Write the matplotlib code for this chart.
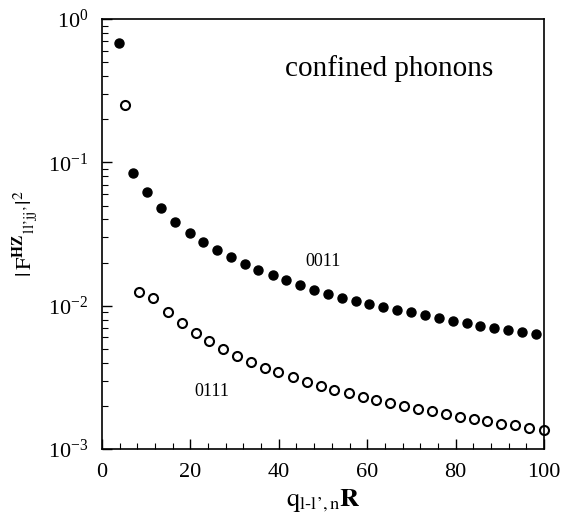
#!/usr/bin/env python3
"""Form factor |F^HZ|^2 vs q R for confined phonons"""
import matplotlib
matplotlib.use('Agg')
import matplotlib.pyplot as plt
from matplotlib.ticker import MultipleLocator, LogLocator, NullFormatter

plt.rcParams['font.family'] = 'Liberation Serif'
plt.rcParams['mathtext.fontset'] = 'stix'

# 0011 (filled circles)
x_0011 = [3.9, 7.1, 10.2, 13.3, 16.6, 19.8, 22.9, 26.0, 29.1, 32.3, 35.4, 38.6,
          41.6, 44.8, 48.0, 51.1, 54.3, 57.5, 60.5, 63.6, 66.8, 70.0, 73.1, 76.2,
          79.3, 82.5, 85.6, 88.8, 91.9, 95.1, 98.2]
y_0011 = [0.68, 0.084, 0.062, 0.0477, 0.0385, 0.0321, 0.0278, 0.0244, 0.022,
          0.0195, 0.0177, 0.0164, 0.0151, 0.0139, 0.0129, 0.0121, 0.0114, 0.0108,
          0.0103, 0.0098, 0.00937, 0.00898, 0.00855, 0.00815, 0.00785, 0.0076,
          0.00725, 0.00698, 0.0068, 0.00658, 0.00634]

# 0111 (open circles)
x_0111 = [5.3, 8.45, 11.6, 14.9, 18.0, 21.2, 24.2, 27.4, 30.5, 33.7, 36.9, 39.9,
          43.3, 46.3, 49.5, 52.6, 55.8, 59.0, 62.1, 65.2, 68.4, 71.5, 74.7, 77.8,
          80.9, 84.1, 87.2, 90.3, 93.4, 96.6, 99.9]
y_0111 = [0.25, 0.0124, 0.01125, 0.0091, 0.0076, 0.00647, 0.00566, 0.0050,
          0.00447, 0.00404, 0.0037, 0.00342, 0.00316, 0.00293, 0.00275, 0.00259,
          0.00244, 0.00231, 0.00219, 0.00209, 0.0020, 0.0019, 0.00183, 0.00175,
          0.00168, 0.00162, 0.00156, 0.0015, 0.00146, 0.00141, 0.00136]

fig = plt.figure(figsize=(5.61, 5.17), dpi=100)
ax = fig.add_axes([0.1818, 0.1315, 0.7879, 0.8317])

ax.plot(x_0011, y_0011, 'o', color='black', markersize=6.5, clip_on=False)
ax.plot(x_0111, y_0111, 'o', markerfacecolor='white', markeredgecolor='black',
        markeredgewidth=1.5, markersize=6.5, clip_on=False)

ax.set_yscale('log')
ax.set_xlim(0, 100)
ax.set_ylim(1e-3, 1)

ax.xaxis.set_major_locator(MultipleLocator(20))
ax.xaxis.set_minor_locator(MultipleLocator(4))
ax.yaxis.set_major_locator(LogLocator(base=10))
ax.yaxis.set_minor_locator(LogLocator(base=10, subs=range(2, 10)))
ax.yaxis.set_minor_formatter(NullFormatter())
ax.tick_params(which='both', direction='in', top=False, right=False, labelsize=16)
ax.tick_params(which='major', length=7, width=1)
ax.tick_params(which='minor', length=4, width=0.8)
ax.tick_params(axis='x', pad=10)
ax.tick_params(axis='y', pad=10)
for s in ax.spines.values():
    s.set_linewidth(1.2)

ax.set_xlabel(r"$\mathrm{q}_{\mathrm{l\text{-}l’,n}}\mathbf{R}$", fontsize=19, labelpad=4)
ax.set_ylabel(r"$|\,\mathrm{F}^{\mathbf{HZ}}{}_{\mathrm{ll’jj’}}|^2$", fontsize=16, labelpad=6)

ax.text(65, 0.45, 'confined phonons', fontsize=21, ha='center', va='center')
ax.text(50, 0.0205, '0011', fontsize=13, ha='center', va='center')
ax.text(24.9, 0.0025, '0111', fontsize=13, ha='center', va='center')

plt.savefig('out.png', dpi=100)
